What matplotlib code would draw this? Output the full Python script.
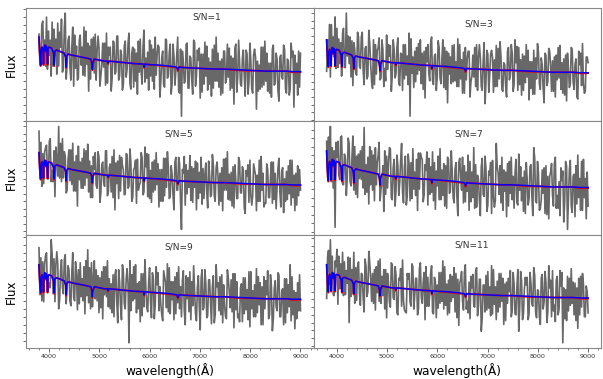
import numpy as np
import matplotlib
matplotlib.use("Agg")
import matplotlib.pyplot as plt
from matplotlib.ticker import MultipleLocator

# model / fit spectrum (same in all panels)
wave_fit = [3800, 3812, 3825, 3835, 3845, 3860, 3880, 3889, 3898, 3915, 3933, 3945,
            3960, 3970, 3980, 4000, 4050, 4090, 4102, 4114, 4150, 4200, 4250, 4300,
            4330, 4340, 4350, 4380, 4450, 4550, 4650, 4750, 4830, 4852, 4861, 4870,
            4900, 5000, 5100, 5160, 5175, 5190, 5300, 5500, 5700, 5880, 5892, 5905,
            6000, 6200, 6400, 6540, 6563, 6585, 6700, 6900, 7100, 7300, 7500, 7700,
            7900, 8100, 8300, 8500, 8700, 8850, 9000]
flux_fit = [84, 70, 60, 56, 72, 74, 70, 57, 72, 76, 70, 75,
            70, 57, 73, 74, 73, 68, 56, 70, 71, 70, 69, 68,
            64, 54, 65, 67, 66, 65, 64, 63, 62, 58, 52, 58,
            62, 61, 60, 60, 58, 60, 59.5, 58.5, 57.5, 57, 54, 57,
            56.5, 56, 55, 54, 51, 54, 53.5, 53, 52.5, 52, 52, 51.5,
            51, 50.5, 50, 50, 50, 49.5, 49.5]
flux_model = [84, 69, 59, 55, 72, 74, 70, 56, 72, 76, 69, 75,
              70, 56, 73, 74, 73, 68, 55, 70, 71, 70, 69, 68,
              64, 53, 65, 67, 66, 65, 64, 63, 62, 57, 51, 58,
              62, 61, 60, 60, 57, 60, 59.5, 58.5, 57.5, 57, 53, 57,
              56.5, 55.5, 54.5, 53.5, 50, 54, 53.5, 53, 52.5, 52, 52, 51,
              50.5, 50.5, 50, 50, 50, 48.8, 49]

# observed noisy spectra, two interleaved sample sets (a, b), 3800-9000 A
flux_sn1_a = [87, 56, 100, 65, 104, 52, 81, 45, 92, 66, 98, 55, 102, 49, 108, 42, 85, 54, 94, 35,
              75, 41, 86, 56, 94, 45, 78, 30, 82, 52, 87, 41, 73, 35, 78, 54, 88, 38, 74, 30,
              79, 47, 85, 41, 67, 31, 80, 44, 88, 38, 74, 34, 68, 27, 82, 49, 91, 39, 69, 31,
              76, 40, 84, 46, 74, 24, 70, 36, 81, 43, 77, 27, 65, 36, 84, 30, 5, 70, 40, 77,
              33, 65, 27, 81, 45, 71, 23, 67, 37, 79, 31, 63, 25, 72, 40, 84, 34, 60, 28, 70,
              42, 77, 31, 65, 17, 73, 43, 81, 35, 63, 25, 71, 39, 78, 28, 66, 12, 60, 32, 74,
              36, 80, 30, 58, 24, 72, 38, 68, 20, 64, 42, 76, 28, 62, 32, 78, 14, 66, 26, 70]
flux_sn1_b = [61, 96, 81, 55, 90, 66, 99, 55, 82, 47, 89, 74, 53, 93, 58, 81, 41, 74, 86, 53,
              43, 81, 74, 46, 90, 57, 75, 42, 84, 48, 70, 85, 45, 57, 78, 36, 74, 66, 42, 80,
              49, 85, 45, 71, 37, 75, 52, 78, 32, 68, 72, 40, 80, 49, 37, 75, 63, 43, 81, 45,
              72, 32, 66, 76, 40, 64, 34, 82, 45, 69, 37, 77, 49, 66, 28, 72, 58, 38, 78, 33,
              63, 41, 79, 35, 61, 73, 29, 67, 45, 75, 37, 59, 33, 76, 40, 68, 26, 62, 70, 38,
              44, 73, 33, 63, 77, 29, 59, 37, 71, 45, 67, 27, 61, 32, 72, 64, 30, 56, 34, 74,
              40, 68, 28, 58, 76, 36, 62, 30, 66, 44, 72, 32, 60, 26, 64, 70, 38, 58, 34, 68]
flux_sn3_a = [51, 84, 45, 100, 66, 108, 55, 85, 46, 91, 55, 112, 59, 87, 36, 81, 47, 92, 54, 87,
              37, 75, 46, 94, 40, 33, 79, 48, 86, 42, 74, 35, 89, 53, 78, 30, 74, 44, 86, 38,
              69, 31, 79, 47, 91, 4, 66, 34, 76, 48, 84, 38, 72, 23, 79, 49, 87, 41, 69, 31,
              76, 44, 84, 34, 72, 18, 66, 38, 79, 41, 85, 35, 63, 28, 76, 42, 72, 24, 68, 45,
              79, 31, 65, 35, 81, 17, 69, 29, 73, 65, 35, 78, 43, 82, 30, 60, 24, 72, 47, 79,
              37, 84, 31, 76, 26, 69, 39, 79, 21, 61, 27, 73, 43, 80, 32, 65, 18, 70, 40, 75,
              30, 62, 24, 68, 44, 78, 28, 64, 20, 70, 38, 76, 32, 58, 22, 72, 36, 80, 30, 66]
flux_sn3_b = [57, 100, 69, 87, 54, 96, 59, 81, 96, 55, 67, 88, 45, 83, 74, 49, 87, 56, 92, 51,
              77, 43, 80, 58, 84, 37, 73, 76, 44, 84, 54, 41, 79, 67, 46, 84, 48, 76, 36, 70,
              79, 43, 67, 37, 85, 49, 72, 40, 80, 52, 70, 32, 76, 61, 41, 81, 37, 67, 45, 83,
              38, 64, 76, 32, 70, 48, 78, 40, 61, 35, 79, 43, 71, 28, 64, 72, 40, 46, 76, 35,
              65, 79, 31, 61, 39, 73, 47, 69, 29, 63, 35, 75, 67, 32, 58, 36, 76, 42, 70, 30,
              60, 77, 37, 63, 31, 67, 45, 73, 33, 61, 27, 65, 71, 38, 58, 34, 68, 36, 72, 56,
              30, 66, 42, 76, 32, 60, 26, 68, 54, 34, 74, 40, 64, 24, 58, 70, 38, 28, 66, 60]
flux_sn5_a = [107, 56, 83, 51, 92, 64, 99, 53, 86, 37, 59, 112, 53, 99, 80, 41, 87, 54, 94, 43,
              81, 27, 74, 46, 88, 49, 93, 42, 70, 36, 84, 49, 79, 31, 74, 52, 86, 38, 72, 42,
              87, 23, 75, 35, 79, 71, 40, 83, 48, 88, 36, 66, 30, 77, 52, 84, 42, 90, 37, 82,
              31, 74, 44, 84, 26, 66, 32, 78, 47, 85, 37, 70, 23, 74, 44, 79, 2, 66, 28, 71,
              47, 81, 31, 67, 23, 73, 41, 79, 35, 61, 25, 75, 39, 82, 32, 68, 28, 62, 22, 77,
              44, 85, 33, 63, 25, 71, 35, 79, 41, 69, 19, 65, 31, 76, 38, 72, 22, 60, 32, 80,
              26, 30, 66, 36, 74, 30, 62, 24, 78, 42, 68, 20, 64, 34, 76, 28, 60, 22, 70, 38]
flux_sn5_b = [95, 48, 85, 89, 56, 96, 65, 53, 90, 77, 57, 94, 57, 85, 44, 77, 87, 50, 74, 43,
              91, 55, 78, 46, 86, 57, 75, 36, 80, 66, 46, 85, 41, 71, 48, 86, 42, 68, 80, 36,
              73, 51, 81, 43, 65, 39, 82, 46, 74, 32, 68, 76, 44, 49, 79, 39, 69, 83, 35, 65,
              42, 76, 50, 72, 32, 66, 38, 78, 69, 35, 61, 39, 79, 44, 72, 32, 62, 80, 40, 65,
              33, 69, 47, 75, 35, 63, 29, 67, 73, 41, 61, 37, 71, 38, 74, 58, 32, 68, 44, 78,
              34, 61, 27, 69, 55, 35, 75, 41, 65, 25, 59, 71, 39, 28, 66, 60, 32, 76, 44, 62,
              30, 72, 36, 58, 74, 34, 46, 68, 26, 64, 56, 32, 70, 40, 76, 36, 62, 28, 66, 44]
flux_sn7_a = [93, 59, 107, 55, 84, 12, 93, 61, 98, 53, 77, 42, 91, 55, 98, 47, 79, 40, 84, 57,
              106, 43, 78, 34, 84, 47, 87, 52, 92, 37, 70, 27, 79, 49, 86, 40, 76, 32, 70, 42,
              91, 45, 79, 33, 71, 37, 86, 48, 76, 28, 82, 78, 42, 71, 33, 77, 45, 83, 29, 65,
              38, 86, 42, 72, 30, 78, 46, 84, 35, 67, 23, 73, 47, 78, 36, 64, 28, 74, 40, 87,
              31, 61, 23, 69, 41, 79, 33, 65, 25, 75, 37, 91, 43, 70, 28, 66, 22, 72, 44, 78,
              30, 63, 33, 81, 37, 59, 25, 73, 39, 69, 23, 87, 35, 74, 30, 38, 68, 25, 60, 20,
              72, 42, 78, 30, 55, 23, 65, 17, 70, 10, 75, 32, 62, 22, 80, 40, 74, 28, 58, 20]
flux_sn7_b = [97, 68, 87, 49, 92, 78, 57, 97, 52, 81, 59, 96, 51, 77, 88, 43, 81, 58, 88, 49,
              71, 45, 88, 52, 80, 37, 73, 80, 48, 54, 84, 43, 73, 87, 38, 68, 46, 80, 54, 76,
              35, 69, 41, 81, 73, 39, 64, 42, 82, 48, 76, 36, 66, 83, 43, 69, 37, 73, 51, 79,
              38, 66, 32, 70, 76, 44, 64, 40, 73, 41, 77, 61, 35, 70, 46, 80, 36, 64, 30, 71,
              57, 37, 77, 43, 67, 27, 61, 73, 41, 31, 69, 63, 35, 78, 46, 64, 32, 74, 38, 60,
              76, 35, 47, 69, 27, 65, 57, 33, 71, 41, 77, 37, 63, 28, 66, 44, 70, 24, 60, 64,
              32, 72, 42, 30, 68, 56, 36, 74, 38, 66, 26, 60, 70, 34, 58, 28, 76, 40, 64, 32]
flux_sn9_a = [101, 54, 87, 47, 96, 58, 61, 109, 90, 47, 85, 40, 89, 61, 94, 45, 79, 48, 96, 51,
              73, 39, 86, 52, 82, 35, 99, 46, 86, 42, 50, 79, 36, 71, 30, 82, 52, 88, 40, 65,
              32, 74, 26, 79, 29, 84, 40, 70, 6, 88, 48, 82, 36, 65, 27, 75, 42, 89, 37, 67,
              31, 76, 44, 82, 38, 62, 28, 78, 41, 85, 35, 67, 29, 72, 46, 82, 32, 68, 24, 73,
              37, 77, 43, 83, 28, 61, 19, 71, 41, 79, 33, 69, 25, 62, 34, 84, 38, 72, 26, 64,
              30, 79, 41, 69, 21, 75, 31, 35, 65, 27, 71, 39, 77, 22, 58, 32, 80, 36, 66, 24,
              72, 40, 78, 30, 62, 18, 68, 42, 74, 32, 60, 24, 70, 36, 84, 28, 58, 20, 66, 38]
flux_sn9_b = [91, 48, 85, 93, 60, 66, 95, 55, 84, 97, 49, 78, 55, 89, 62, 83, 43, 76, 48, 87,
              79, 45, 70, 48, 88, 53, 81, 40, 70, 88, 48, 73, 41, 77, 54, 82, 42, 70, 36, 74,
              79, 47, 67, 43, 77, 45, 80, 64, 38, 74, 50, 84, 40, 67, 33, 75, 61, 41, 81, 47,
              70, 30, 64, 76, 44, 34, 72, 66, 37, 81, 49, 67, 35, 76, 40, 62, 78, 38, 50, 71,
              29, 67, 59, 35, 73, 43, 79, 39, 65, 31, 69, 47, 73, 26, 62, 66, 34, 74, 44, 32,
              70, 57, 37, 75, 39, 67, 27, 61, 71, 35, 59, 29, 77, 40, 64, 32, 72, 44, 62, 24,
              68, 54, 34, 74, 30, 60, 38, 76, 32, 58, 70, 26, 64, 42, 72, 34, 56, 30, 74, 38]
flux_sn11_a = [49, 92, 110, 65, 52, 88, 43, 93, 60, 97, 53, 78, 24, 91, 54, 97, 47, 82, 42, 75,
               35, 90, 56, 98, 46, 75, 37, 82, 46, 90, 52, 79, 29, 75, 40, 86, 48, 82, 32, 70,
               41, 89, 35, 34, 75, 45, 82, 38, 70, 32, 86, 50, 76, 27, 71, 41, 83, 35, 67, 29,
               76, 44, 88, 38, 64, 32, 74, 46, 81, 35, 69, 21, 77, 46, 84, 38, 66, 28, 74, 41,
               81, 31, 69, 15, 63, 35, 77, 39, 83, 33, 61, 27, 75, 40, 70, 22, 66, 44, 78, 30,
               64, 33, 79, 15, 67, 27, 71, 63, 33, 76, 41, 81, 29, 58, 22, 70, 45, 77, 35, 83,
               30, 78, 25, 68, 38, 78, 3, 60, 26, 72, 42, 80, 32, 65, 18, 70, 40, 75, 30, 62]
flux_sn11_b = [99, 64, 93, 53, 82, 100, 59, 85, 52, 87, 65, 92, 51, 79, 44, 81, 87, 54, 74, 49,
               83, 51, 86, 70, 44, 79, 55, 88, 44, 72, 38, 79, 65, 45, 84, 50, 74, 34, 68, 80,
               47, 37, 75, 69, 41, 85, 52, 70, 38, 80, 44, 66, 82, 41, 53, 75, 33, 71, 63, 39,
               76, 46, 82, 42, 68, 34, 72, 50, 75, 29, 65, 69, 37, 76, 46, 34, 72, 60, 40, 77,
               41, 69, 29, 63, 73, 37, 61, 31, 79, 43, 67, 35, 75, 46, 64, 26, 70, 56, 36, 76,
               32, 61, 39, 77, 33, 59, 71, 27, 65, 43, 73, 35, 57, 30, 74, 38, 66, 24, 60, 68,
               36, 42, 72, 32, 62, 76, 28, 58, 36, 70, 44, 66, 26, 60, 32, 72, 64, 30, 56, 34]

labels = ["S/N=1", "S/N=3", "S/N=5", "S/N=7", "S/N=9", "S/N=11"]
spectra = [(flux_sn1_a, flux_sn1_b), (flux_sn3_a, flux_sn3_b), (flux_sn5_a, flux_sn5_b),
           (flux_sn7_a, flux_sn7_b), (flux_sn9_a, flux_sn9_b), (flux_sn11_a, flux_sn11_b)]
label_pos = [(0.63, 0.92), (0.575, 0.86), (0.53, 0.89), (0.54, 0.89), (0.53, 0.89), (0.55, 0.91)]

n_pix = 2 * len(flux_sn1_a)
wave = np.linspace(3800, 9000, n_pix)

fig, axes = plt.subplots(3, 2, figsize=(6.03, 3.79), dpi=100)
fig.subplots_adjust(left=0.043, right=0.997, top=0.979, bottom=0.082, hspace=0, wspace=0)

for k, ax in enumerate(axes.flat):
    fa, fb = spectra[k]
    # the two sample sets alternate in blocks of two pixels
    flux = np.column_stack([np.reshape(fa, (-1, 2)), np.reshape(fb, (-1, 2))]).ravel()
    ax.plot(wave, flux, color="#686868", lw=1.2)
    ax.plot(wave_fit, flux_model, color="red", lw=1.3)
    ax.plot(wave_fit, flux_fit, color="blue", lw=1.1)
    ax.text(label_pos[k][0], label_pos[k][1], labels[k], transform=ax.transAxes,
            fontsize=6.5, color="#333333", ha="center", va="center")
    ax.yaxis.set_major_locator(MultipleLocator(40))
    ax.yaxis.set_minor_locator(MultipleLocator(8))
    ax.tick_params(axis="y", which="both", length=2, width=0.6, color="#555555", labelleft=False)
    ax.xaxis.set_major_locator(MultipleLocator(1000))
    ax.xaxis.set_minor_locator(MultipleLocator(200))
    ax.tick_params(axis="x", which="major", length=3, width=0.6, color="#555555",
                   labelsize=4.6, labelcolor="#333333", pad=1.5)
    ax.tick_params(axis="x", which="minor", length=1.5, width=0.5, color="#555555")
    for s in ax.spines.values():
        s.set_color("#888888")
        s.set_linewidth(0.8)
    if k < 4:
        ax.tick_params(axis="x", which="both", length=0, labelbottom=False)
    if k % 2 == 0:
        ax.set_ylabel("Flux", fontsize=8.5, labelpad=4)
    if k >= 4:
        ax.set_xlabel("wavelength(Å)", fontsize=8.8, labelpad=2.5)

fig.savefig("out.png", dpi=100)
